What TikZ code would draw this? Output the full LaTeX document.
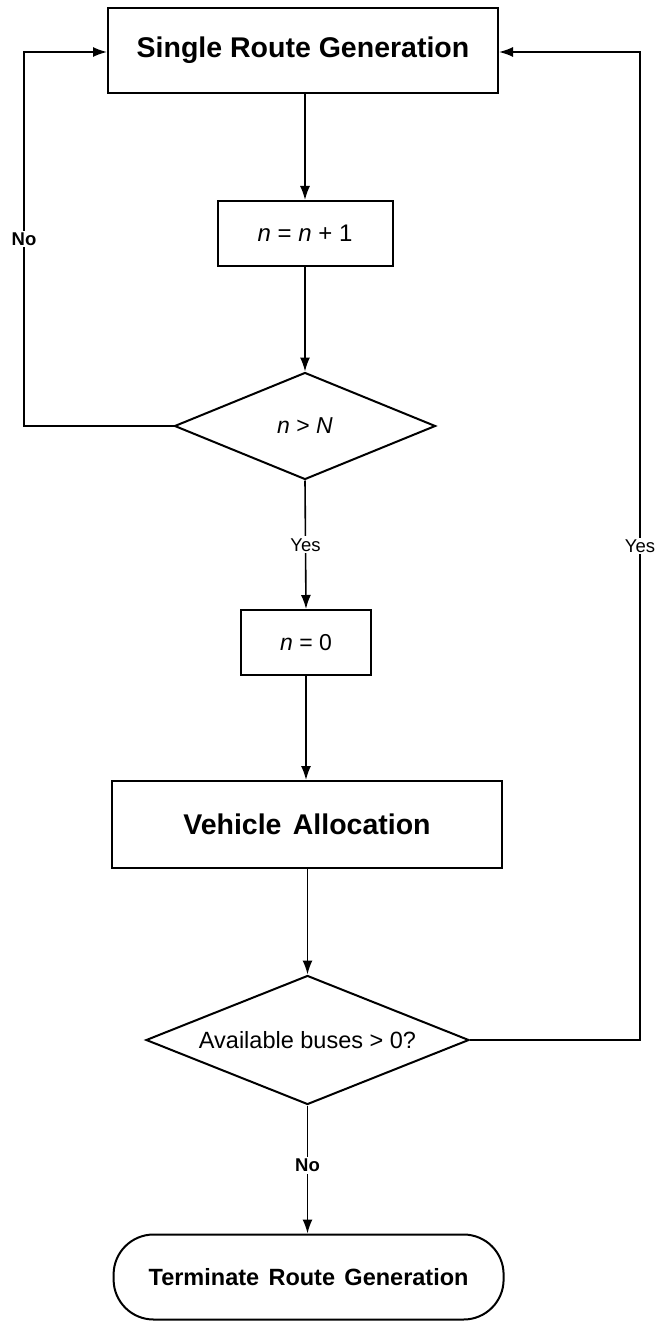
\documentclass[tikz,border=0pt]{standalone}
\usepackage{fontspec}
\setmainfont{Liberation Sans}
\usetikzlibrary{shapes.geometric,arrows.meta}
\begin{document}
\begin{tikzpicture}[x=1pt,y=-1pt,
  box/.style={draw,line width=2pt,inner sep=0pt,align=center},
  dec/.style={draw,diamond,line width=2pt,inner sep=0pt,aspect=2.4},
  conn/.style={line width=1.6pt},
  arr/.style={conn,-{Latex[length=14pt,width=10pt]}},
  lab/.style={fill=white,inner sep=2pt,font=\fontsize{18.5}{20}\selectfont}]
\useasboundingbox (0,0) rectangle (658,1321);
\node[box,minimum width=390pt,minimum height=85pt,font=\fontsize{28.5}{32}\selectfont\bfseries] (srg) at (303,50.5) {Single Route Generation};
\node[box,minimum width=175pt,minimum height=65pt,font=\fontsize{24}{26}\selectfont] (inc) at (305,233.5) {\textit{n} = \textit{n} + 1};
\node[dec,minimum width=261pt,minimum height=107pt,font=\fontsize{23}{24}\selectfont] (d1) at (305,426) {\textit{n} > \textit{N}};
\node[box,minimum width=130pt,minimum height=65pt,font=\fontsize{23}{24}\selectfont] (zero) at (306,642.5) {\textit{n} = 0};
\node[box,minimum width=390pt,minimum height=87pt,font=\fontsize{28.5}{32}\selectfont\bfseries] (va) at (307,824.5) {Vehicle\hspace{0.12em} Allocation};
\node[dec,minimum width=323pt,minimum height=129pt,font=\fontsize{23.5}{26}\selectfont] (d2) at (307.5,1040) {Available buses > 0?};
\node[box,rounded corners=40pt,minimum width=390pt,minimum height=85pt,font=\fontsize{23.5}{26}\selectfont\bfseries] (term) at (308.6,1277) {Terminate\hspace{0.12em} Route\hspace{0.12em} Generation};
\coordinate (lc1) at (24,426);
\coordinate (lc2) at (24,52);
\coordinate (rc1) at (640,1040);
\coordinate (rc2) at (640,52);
\draw[arr] (srg.south -| inc.north) -- (inc.north);
\draw[arr] (inc) -- (d1.north);
\draw[arr] (d1.south) -- node[lab] (yes1) {Yes} (zero.north);
\draw[arr] (zero) -- (va.north -| zero.south);
\draw[arr] (va.south -| d2.north) -- (d2.north);
\draw[arr] (d2.south) -- node[lab,pos=0.47,font=\fontsize{18.5}{20}\selectfont\bfseries] (no2) {No} (term.north -| d2.south);
\draw[arr] (d1.west) -- (lc1) -- node[lab,pos=0.5,font=\fontsize{18.5}{20}\selectfont\bfseries] (no1) {No} (lc2) -- (srg.west |- lc2);
\draw[arr] (d2.east) -- (rc1) -- node[lab,pos=0.5] (yes2) {Yes} (rc2) -- (srg.east |- rc2);
\end{tikzpicture}
\end{document}
